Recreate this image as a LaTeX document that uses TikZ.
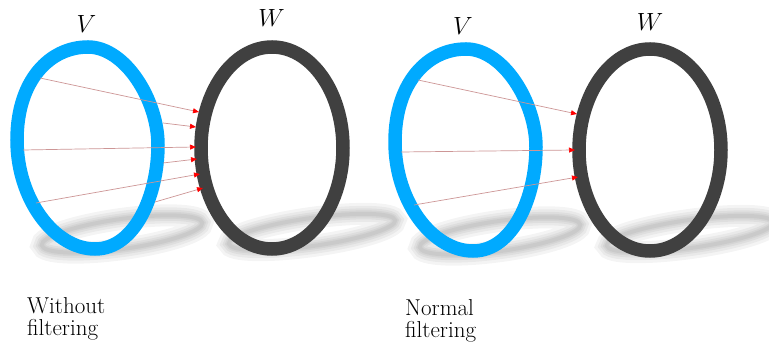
\documentclass[tikz,border=0pt]{standalone}
\usepackage{tikz}
\usetikzlibrary{arrows.meta}
\definecolor{ringblue}{RGB}{0,170,255}
\definecolor{ringgray}{RGB}{64,64,64}
\definecolor{maplink}{RGB}{205,150,150}

\begin{document}
\begin{tikzpicture}[x=1pt,y=-1pt,
  ringshadow/.style={draw=black,line width=#1,opacity=0.045},
  ringv/.style={draw=ringblue,line width=13.5pt},
  ringw/.style={draw=ringgray,line width=13.5pt},
  maparrow/.style={draw=maplink,line width=0.7pt,-{Triangle[length=6pt,width=5pt,color=red,fill=red]}},
  setlabel/.style={font=\fontsize{25}{28}\selectfont,inner sep=0pt},
  caption/.style={font=\fontsize{23}{22}\selectfont,align=left,anchor=north west,inner sep=0pt}]
\useasboundingbox (0,0) rectangle (769,352);
\fill[white] (0,0) rectangle (769,352);

\foreach \dx/\dy in {0/0,378/2} {
  \begin{scope}[shift={(\dx,\dy)}]
  \foreach \w in {22,16,11,7,4} {
    \draw[ringshadow=\w pt,rotate around={8:(122,234)}] (122,234) ellipse [x radius=81,y radius=15];
    \draw[ringshadow=\w pt,rotate around={8:(312,232)}] (312,232) ellipse [x radius=84,y radius=14];
  }
  \draw[ringv] (88,47) .. controls (125,47) and (158,100) .. (158,145)
    .. controls (158,195) and (135,249) .. (95,249)
    .. controls (55,249) and (17,200) .. (17,140)
    .. controls (17,80) and (50,47) .. cycle;
  \draw[ringw] (272,148) ellipse [x radius=71,y radius=101];
  \end{scope}
}

\coordinate (a1) at (40,78);   \coordinate (b1) at (199,112);
\coordinate (a2) at (163,123); \coordinate (b2) at (196,127);
\coordinate (a3) at (23,150);  \coordinate (b3) at (196,147);
\coordinate (a4) at (163,163); \coordinate (b4) at (197,159);
\coordinate (a5) at (36,203);  \coordinate (b5) at (200,174);
\coordinate (a6) at (155,202); \coordinate (b6) at (203,188);
\foreach \i in {1,...,6}
  \draw[maparrow] (a\i) -- (b\i);

\coordinate (c1) at (418,80);  \coordinate (d1) at (577,114);
\coordinate (c2) at (401,152); \coordinate (d2) at (575,150);
\coordinate (c3) at (414,205); \coordinate (d3) at (578,177);
\foreach \i in {1,2,3}
  \draw[maparrow] (c\i) -- (d\i);

\node[setlabel] (v1) at (86.5,24) {$V$};
\node[setlabel] (w1) at (271.5,18) {$W$};
\node[setlabel] (v2) at (463,26) {$V$};
\node[setlabel] (w2) at (650,22) {$W$};

\node[caption] (t1) at (27,297) {Without\\filtering};
\node[caption] (t2) at (405,299) {Normal\\filtering};
\end{tikzpicture}
\end{document}
